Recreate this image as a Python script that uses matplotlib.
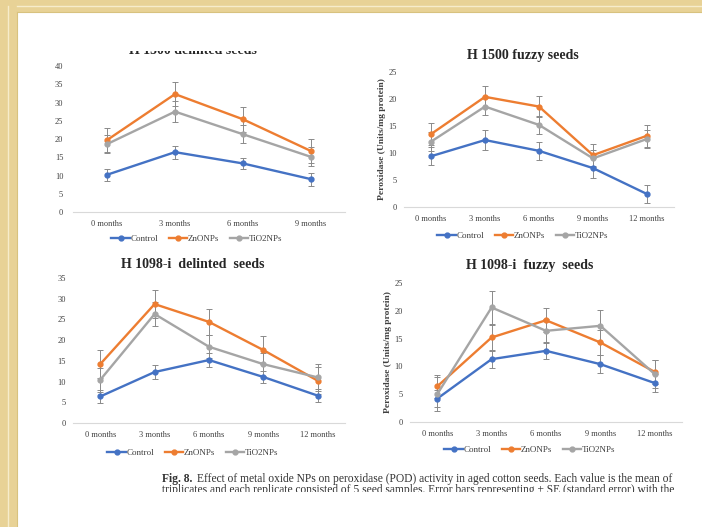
#!/usr/bin/env python3
"""Peroxidase activity in aged cotton seeds: four line panels with SE bars."""

import matplotlib.pyplot as plt
from matplotlib.lines import Line2D
from matplotlib.patches import Rectangle

MONTHS_4 = ["0 months", "3 months", "6 months", "9 months"]
MONTHS_5 = ["0 months", "3 months", "6 months", "9 months", "12 months"]
SERIES = ["Control", "ZnONPs", "TiO2NPs"]

# H 1500 delinted seeds
P1_CONTROL = [10.2, 16.4, 13.3, 9.0]
P1_CONTROL_SE = [1.6, 1.8, 1.6, 1.8]
P1_ZNO = [19.7, 32.3, 25.4, 16.7]
P1_ZNO_SE = [3.2, 3.2, 3.4, 3.4]
P1_TIO2 = [18.6, 27.5, 21.3, 15.1]
P1_TIO2_SE = [2.4, 2.8, 2.5, 2.6]

# H 1500 fuzzy seeds
P2_CONTROL = [9.4, 12.4, 10.4, 7.2, 2.4]
P2_CONTROL_SE = [1.7, 1.8, 1.7, 1.9, 1.7]
P2_ZNO = [13.5, 20.4, 18.6, 9.6, 13.2]
P2_ZNO_SE = [2.1, 2.0, 1.9, 2.0, 2.0]
P2_TIO2 = [12.1, 18.6, 15.2, 9.0, 12.6]
P2_TIO2_SE = [1.7, 1.6, 1.7, 1.5, 1.6]

# H 1098-i delinted seeds
P3_CONTROL = [6.4, 12.3, 15.2, 11.1, 6.6]
P3_CONTROL_SE = [1.6, 1.7, 1.6, 1.5, 1.5]
P3_ZNO = [14.2, 28.7, 24.4, 17.6, 10.2]
P3_ZNO_SE = [3.4, 3.3, 3.2, 3.4, 3.2]
P3_TIO2 = [10.4, 26.3, 18.4, 14.2, 11.0]
P3_TIO2_SE = [2.8, 3.0, 2.8, 2.8, 3.2]

# H 1098-i fuzzy seeds
P4_CONTROL = [4.2, 11.3, 12.8, 10.4, 7.0]
P4_CONTROL_SE = [1.5, 1.5, 1.5, 1.6, 1.6]
P4_ZNO = [6.4, 15.2, 18.3, 14.3, 9.0]
P4_ZNO_SE = [2.0, 2.2, 2.2, 2.3, 2.2]
P4_TIO2 = [5.0, 20.6, 16.4, 17.3, 8.6]
P4_TIO2_SE = [3.1, 2.9, 2.2, 2.9, 2.5]

COLORS = {"Control": "#4472C4", "ZnONPs": "#ED7D31", "TiO2NPs": "#A5A5A5"}
ERR_COLOR = "#8a8a8a"
TEXT_COLOR = "#404040"
SERIF = "Liberation Serif"

W, H = 702, 527


def fx(px):
    return px / W


def fy(py):
    return 1 - py / H


def _panel(fig, box, cats, data, ymax, ystep, ylabel=None, ypad=5):
    x0, y0, x1, y1 = box
    ax = fig.add_axes([fx(x0), fy(y1), fx(x1) - fx(x0), fy(y0) - fy(y1)])
    xs = list(range(len(cats)))
    for name, (vals, se) in zip(SERIES, data):
        ax.errorbar(xs, vals, yerr=se, color=COLORS[name], lw=1.7, marker="o",
                    ms=3.5, ecolor=ERR_COLOR, elinewidth=0.7, capsize=2,
                    capthick=0.7, zorder=3)
    ax.set_xlim(-0.5, len(cats) - 0.5)
    ax.set_ylim(0, ymax)
    ax.set_yticks(range(0, ymax + 1, ystep))
    ax.set_xticks(xs)
    ax.set_xticklabels(cats)
    for s in ("top", "right", "left"):
        ax.spines[s].set_visible(False)
    ax.spines["bottom"].set_color("#d9d9d9")
    ax.spines["bottom"].set_linewidth(0.8)
    ax.tick_params(length=0, labelsize=6, colors=TEXT_COLOR, pad=6)
    ax.tick_params(axis="y", pad=ypad)
    for lab in ax.get_xticklabels() + ax.get_yticklabels():
        lab.set_fontfamily(SERIF)
    if ylabel:
        ax.set_ylabel(ylabel, fontsize=6.8, fontweight="bold", family=SERIF,
                      color=TEXT_COLOR, labelpad=2)
    ax.set_facecolor("none")
    return ax


def _legend(fig, cx, cy):
    handles = [Line2D([], [], color=COLORS[n], lw=1.7, marker="o", ms=3.5) for n in SERIES]
    fig.legend(handles, SERIES, loc="center", bbox_to_anchor=(fx(cx), fy(cy)),
               ncol=3, frameon=False, handlelength=2.0, handletextpad=0.1,
               columnspacing=1.2, prop={"family": SERIF, "size": 6.5},
               labelcolor=TEXT_COLOR)


def main() -> None:
    fig = plt.figure(figsize=(W / 100, H / 100), dpi=100)
    fig.patch.set_facecolor("white")

    _panel(fig, (73, 66, 345, 212), MONTHS_4,
           [(P1_CONTROL, P1_CONTROL_SE), (P1_ZNO, P1_ZNO_SE), (P1_TIO2, P1_TIO2_SE)], 40, 5,
           ypad=7)
    _panel(fig, (404, 72, 674, 207), MONTHS_5,
           [(P2_CONTROL, P2_CONTROL_SE), (P2_ZNO, P2_ZNO_SE), (P2_TIO2, P2_TIO2_SE)], 25, 5,
           ylabel="Peroxidase (Units/mg protein)")
    _panel(fig, (73, 278, 345, 423), MONTHS_5,
           [(P3_CONTROL, P3_CONTROL_SE), (P3_ZNO, P3_ZNO_SE), (P3_TIO2, P3_TIO2_SE)], 35, 5)
    _panel(fig, (410, 283, 682, 422), MONTHS_5,
           [(P4_CONTROL, P4_CONTROL_SE), (P4_ZNO, P4_ZNO_SE), (P4_TIO2, P4_TIO2_SE)], 25, 5,
           ylabel="Peroxidase (Units/mg protein)")

    title_kw = dict(ha="center", va="center", fontsize=10, fontweight="bold",
                    family=SERIF, color="#262626")
    fig.text(fx(193), fy(50), "H 1500 delinted seeds", **title_kw)
    fig.text(fx(523), fy(55), "H 1500 fuzzy seeds", **title_kw)
    fig.text(fx(193), fy(265), "H 1098-i  delinted  seeds", **title_kw)
    fig.text(fx(530), fy(265), "H 1098-i  fuzzy  seeds", **title_kw)

    _legend(fig, 197, 239)
    _legend(fig, 523, 236)
    _legend(fig, 193, 453)
    _legend(fig, 530, 450)

    cap_kw = dict(ha="left", va="center", fontsize=8.3, family=SERIF, color="#333333")
    fig.text(fx(162), fy(479), "Fig. 8.", fontweight="bold", **cap_kw)
    fig.text(fx(197), fy(479),
             "Effect of metal oxide NPs on peroxidase (POD) activity in aged cotton seeds. "
             "Each value is the mean of", **cap_kw)
    fig.text(fx(162), fy(490),
             "triplicates and each replicate consisted of 5 seed samples. Error bars "
             "representing \u00b1 SE (standard error) with the", **cap_kw)

    # page cut-offs: top of the first title and bottom of the caption are hidden
    fig.patches.append(Rectangle((fx(17), fy(51.5)), fx(360) - fx(17), fy(12) - fy(51.5),
                                 transform=fig.transFigure, facecolor="white",
                                 edgecolor="none", zorder=10))
    fig.patches.append(Rectangle((0, 0), 1, fy(492), transform=fig.transFigure,
                                 facecolor="white", edgecolor="none", zorder=10))

    # tan page border on top and left
    band = "#e8d296"
    fig.patches.append(Rectangle((0, fy(12)), 1, 1 - fy(12), transform=fig.transFigure,
                                 facecolor=band, edgecolor="none", zorder=11))
    fig.patches.append(Rectangle((0, 0), fx(17), 1, transform=fig.transFigure,
                                 facecolor=band, edgecolor="none", zorder=11))
    fig.lines.append(Line2D([fx(17), 1], [fy(6), fy(6)], transform=fig.transFigure,
                            color="#f7eccb", lw=1.0, zorder=12))
    fig.lines.append(Line2D([fx(8), fx(8)], [0, fy(6)], transform=fig.transFigure,
                            color="#f7eccb", lw=1.0, zorder=12))
    fig.lines.append(Line2D([fx(17), 1], [fy(12), fy(12)], transform=fig.transFigure,
                            color="#d8c27f", lw=0.8, zorder=12))
    fig.lines.append(Line2D([fx(17), fx(17)], [0, fy(12)], transform=fig.transFigure,
                            color="#d8c27f", lw=0.8, zorder=12))

    fig.savefig("out.png", dpi=100)


if __name__ == "__main__":
    main()
